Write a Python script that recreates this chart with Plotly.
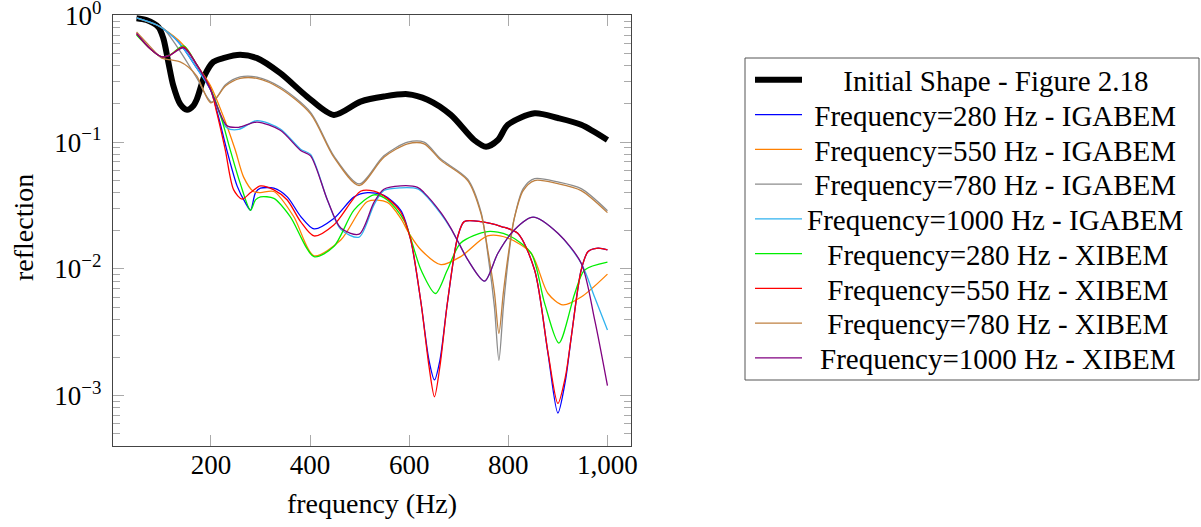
import plotly.graph_objects as go

# ---------------- data ----------------
initial_x = [50, 70, 94, 104, 114, 124, 138, 152, 165, 172, 188, 205, 225, 259, 293, 340, 394, 448, 502,
             549, 597, 637, 684, 731, 755, 779, 799, 853, 900, 947, 1000]
initial_y = [0.95, 0.92, 0.81, 0.66, 0.43, 0.28, 0.2, 0.18, 0.195, 0.22, 0.34, 0.43, 0.46, 0.489, 0.46,
             0.35, 0.229, 0.164, 0.209, 0.229, 0.239, 0.216, 0.164, 0.104, 0.092, 0.104, 0.137, 0.169,
             0.155, 0.137, 0.104]

iga280_x = [50, 91, 124, 145, 172, 199, 215, 232, 253, 270, 280, 290, 300, 327, 354, 381, 408, 448, 489,
            516, 549, 583, 603, 624, 640, 651, 662, 677, 698, 711, 745, 786, 819, 853, 880, 900, 915, 927,
            947, 961, 981, 1000]
iga280_y = [0.957, 0.84, 0.678, 0.548, 0.381, 0.26, 0.16, 0.087, 0.045, 0.033, 0.029, 0.040, 0.0433,
            0.0433, 0.037, 0.026, 0.0207, 0.025, 0.037, 0.040, 0.038, 0.029, 0.017, 0.00536, 0.0019,
            0.00133, 0.0019, 0.00536, 0.018, 0.0236, 0.0236, 0.0216, 0.0191, 0.0098, 0.00216, 0.00073,
            0.0013, 0.0029, 0.0098, 0.0137, 0.0146, 0.0141]

iga550_x = [50, 91, 124, 145, 172, 199, 225, 249, 266, 286, 300, 327, 367, 408, 462, 516, 556, 583, 600,
            624, 664, 704, 758, 799, 846, 880, 910, 947, 1000]
iga550_y = [0.957, 0.84, 0.69, 0.58, 0.405, 0.28, 0.16, 0.087, 0.053, 0.0408, 0.040, 0.0408, 0.0259,
            0.0127, 0.0169, 0.034, 0.0335, 0.025, 0.019, 0.0141, 0.0108, 0.0125, 0.0182, 0.0175, 0.0133,
            0.0064, 0.0052, 0.006, 0.0091]

iga780_x = [50, 91, 104, 138, 172, 202, 230, 259, 293, 340, 401, 448, 499, 549, 597, 630, 664, 718, 745,
            760, 772, 781, 790, 800, 812, 830, 853, 900, 947, 1000]
iga780_y = [0.957, 0.84, 0.79, 0.52, 0.318, 0.207, 0.285, 0.327, 0.326, 0.272, 0.172, 0.078, 0.0468,
            0.078, 0.1, 0.1, 0.0735, 0.051, 0.028, 0.012, 0.005, 0.0019, 0.005, 0.012, 0.025, 0.043,
            0.0515, 0.0485, 0.043, 0.0288]

iga1000_x = [50, 91, 124, 145, 172, 199, 215, 232, 256, 293, 340, 381, 401, 435, 462, 499, 529, 549, 583,
             617, 630, 664, 684, 700, 720, 752, 779, 812, 850, 900, 947, 974, 1000]
iga1000_y = [0.957, 0.84, 0.678, 0.548, 0.381, 0.26, 0.178, 0.13, 0.126, 0.148, 0.127, 0.088, 0.08,
             0.035, 0.0205, 0.0178, 0.032, 0.0415, 0.0436, 0.0428, 0.0392, 0.0272, 0.0208, 0.016, 0.0115,
             0.008, 0.0133, 0.0203, 0.0256, 0.0191, 0.0111, 0.006, 0.0033]

xi280_x = [50, 77, 101, 118, 145, 172, 199, 220, 239, 259, 280, 290, 300, 327, 360, 408, 448, 489, 529,
           556, 590, 624, 653, 677, 704, 758, 799, 846, 873, 902, 934, 954, 1000]
xi280_y = [0.70, 0.548, 0.47, 0.49, 0.575, 0.405, 0.265, 0.16, 0.087, 0.0475, 0.029, 0.035, 0.037,
           0.036, 0.0259, 0.0125, 0.015, 0.0292, 0.0384, 0.035, 0.024, 0.0098, 0.0064, 0.0098, 0.016,
           0.0197, 0.0185, 0.0133, 0.0054, 0.0026, 0.0064, 0.0098, 0.0113]

xi550_x = [50, 77, 101, 118, 145, 172, 199, 212, 229, 246, 263, 280, 300, 327, 354, 381, 408, 448, 502,
           529, 556, 583, 603, 624, 640, 651, 662, 677, 698, 711, 745, 786, 819, 853, 880, 900, 915, 927,
           947, 961, 981, 1000]
xi550_y = [0.72, 0.548, 0.47, 0.486, 0.565, 0.405, 0.265, 0.17, 0.087, 0.042, 0.0355, 0.040, 0.0452,
           0.042, 0.035, 0.0236, 0.0182, 0.0222, 0.041, 0.041, 0.036, 0.028, 0.017, 0.00536, 0.0017,
           0.00098, 0.0017, 0.00536, 0.018, 0.0236, 0.0236, 0.0216, 0.0191, 0.0098, 0.0022, 0.00087,
           0.0014, 0.0029, 0.0098, 0.0137, 0.0146, 0.0141]

xi780_x = [50, 77, 101, 120, 138, 155, 172, 200, 230, 259, 293, 340, 401, 448, 499, 549, 597, 630, 664,
           718, 745, 760, 772, 781, 790, 800, 812, 830, 853, 900, 947, 1000]
xi780_y = [0.74, 0.57, 0.46, 0.445, 0.43, 0.39, 0.33, 0.204, 0.278, 0.318, 0.318, 0.265, 0.167, 0.076,
           0.0455, 0.076, 0.097, 0.097, 0.0718, 0.0498, 0.0272, 0.013, 0.0065, 0.0031, 0.0065, 0.013,
           0.025, 0.0415, 0.0498, 0.047, 0.0415, 0.0278]

xi1000_x = [50, 77, 101, 118, 145, 172, 199, 215, 232, 256, 293, 340, 381, 401, 435, 462, 499, 529, 549,
            583, 617, 630, 664, 684, 700, 720, 752, 779, 812, 850, 900, 947, 974, 1000]
xi1000_y = [0.72, 0.548, 0.47, 0.486, 0.555, 0.405, 0.26, 0.182, 0.135, 0.131, 0.144, 0.124, 0.086,
            0.078, 0.035, 0.021, 0.0188, 0.0335, 0.0425, 0.0452, 0.0440, 0.0400, 0.0278, 0.021, 0.016,
            0.0115, 0.008, 0.0133, 0.0203, 0.0256, 0.0191, 0.0111, 0.004, 0.0012]

x_tick_vals = [200, 400, 600, 800, 1000]
x_tick_text = ["200", "400", "600", "800", "1,000"]
y_decades = [0, -1, -2, -3]

NB = "\u00a0"
TH = "\u2009"
series = [
    (NB * 5 + "Initial Shape - Figure 2.18", initial_x, initial_y, "#000000", 6),
    (NB + "Frequency=280 Hz - IGABEM", iga280_x, iga280_y, "#0000ff", 1.3),
    (NB + "Frequency=550 Hz - IGABEM", iga550_x, iga550_y, "#ff8000", 1.3),
    (NB + "Frequency=780 Hz - IGABEM", iga780_x, iga780_y, "#8c8c8c", 1.3),
    ("Frequency=1000 Hz - IGABEM", iga1000_x, iga1000_y, "#2fb2ef", 1.3),
    (NB * 2 + TH + "Frequency=280 Hz - XIBEM", xi280_x, xi280_y, "#00ee00", 1.3),
    (NB * 2 + TH + "Frequency=550 Hz - XIBEM", xi550_x, xi550_y, "#ff0000", 1.3),
    (NB * 2 + TH + "Frequency=780 Hz - XIBEM", xi780_x, xi780_y, "#bf8040", 1.3),
    (NB + TH + "Frequency=1000 Hz - XIBEM", xi1000_x, xi1000_y, "#800080", 1.3),
]

# ---------------- layout geometry (pixels) ----------------
W, H = 1201, 527
L, R, T, B = 113, 570, 15, 81
pw, ph = W - L - R, H - T - B


def px_x(p):
    return (p - L) / pw


def px_y(p):
    return (H - B - p) / ph


serif = "Liberation Serif, Times New Roman, serif"
fig = go.Figure()
legend_layouts = {}
for i, (name, xs, ys, color, width) in enumerate(series):
    lg = "legend" if i == 0 else "legend%d" % (i + 1)
    fig.add_trace(go.Scatter(x=xs, y=ys, mode="lines", name=name, legend=lg,
                             line=dict(color=color, width=width, shape="spline", smoothing=0.8)))
    legend_layouts[lg] = dict(x=px_x(750), y=px_y(80 + i * 34.75), xanchor="left", yanchor="middle",
                              bgcolor="rgba(0,0,0,0)", borderwidth=0,
                              font=dict(family=serif, size=29, color="black"), itemwidth=47)

y_minor = [m * 10 ** d for d in [-4, -3, -2, -1] for m in range(2, 10)]

fig.update_layout(
    width=W, height=H,
    margin=dict(l=L, r=R, t=T, b=B, autoexpand=False),
    paper_bgcolor="white", plot_bgcolor="white",
    font=dict(family=serif, color="black"),
    showlegend=True,
    xaxis=dict(range=[2.5, 1047.5], tickmode="array", tickvals=x_tick_vals, ticktext=x_tick_text,
               ticks="inside", ticklen=11, tickcolor="#aaaaaa", tickwidth=1.3,
               showline=True, linecolor="#444444", linewidth=1.3, mirror="ticks",
               showgrid=False, zeroline=False, ticklabeloverflow="allow", automargin=False,
               tickfont=dict(family=serif, size=27), ticklabelstandoff=-6,
               title=dict(text="frequency (Hz)", font=dict(family=serif, size=28), standoff=14)),
    yaxis=dict(type="log", range=[-3.397, 0.003], tickmode="array",
               tickvals=[10 ** d for d in y_decades],
               ticktext=["10<sup>" + (str(d) if d == 0 else "\u2212" + str(-d)) + "</sup>" for d in y_decades],
               ticks="inside", ticklen=11, tickcolor="#aaaaaa", tickwidth=1.3,
               minor=dict(tickmode="array", tickvals=y_minor, ticks="inside", ticklen=7,
                          tickcolor="#aaaaaa", tickwidth=1.3, showgrid=False),
               showline=True, linecolor="#444444", linewidth=1.3, mirror="ticks",
               showgrid=False, zeroline=False, ticklabeloverflow="allow", automargin=False,
               tickfont=dict(family=serif, size=27), ticklabelstandoff=5),
    annotations=[dict(text="reflection", xref="paper", yref="paper", x=px_x(23), y=px_y(228),
                      xanchor="center", yanchor="middle", textangle=-90, showarrow=False,
                      font=dict(family=serif, size=28, color="black"))],
    shapes=[dict(type="rect", xref="paper", yref="paper",
                 x0=px_x(745), x1=px_x(1199), y0=px_y(380), y1=px_y(58),
                 line=dict(color="#555555", width=1), fillcolor="rgba(0,0,0,0)")],
)
fig.update_layout(**legend_layouts)

fig.write_html("out.html", post_script="document.body.style.margin='0';",
               config={"displayModeBar": False})
